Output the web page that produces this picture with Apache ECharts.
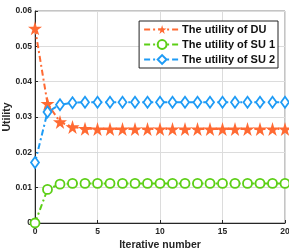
<!DOCTYPE html>
<html>
<head>
<meta charset="utf-8">
<script src="https://cdn.jsdelivr.net/npm/echarts@6/dist/echarts.min.js"></script>
<style>
  html, body { margin: 0; padding: 0; background: #fff; }
  #chart { width: 289px; height: 250px; }
</style>
</head>
<body>
<div id="chart"></div>
<script>
const iterations = Array.from({ length: 21 }, (_, i) => i);
const duUtility = [0.0551, 0.0338, 0.0286, 0.0272, 0.0267, 0.0266, 0.0266, 0.0266, 0.0266, 0.0266, 0.0266,
  0.0266, 0.0266, 0.0266, 0.0266, 0.0266, 0.0266, 0.0266, 0.0266, 0.0266, 0.0266];
const su1Utility = [0.0, 0.0095, 0.0110, 0.0112, 0.0112, 0.0112, 0.0112, 0.0112, 0.0112, 0.0112, 0.0112,
  0.0112, 0.0112, 0.0112, 0.0112, 0.0112, 0.0112, 0.0112, 0.0112, 0.0112, 0.0112];
const su2Utility = [0.0171, 0.0314, 0.0335, 0.0340, 0.0342, 0.0342, 0.0342, 0.0342, 0.0342, 0.0342, 0.0342,
  0.0342, 0.0342, 0.0342, 0.0342, 0.0342, 0.0342, 0.0342, 0.0342, 0.0342, 0.0342];
const seriesNames = ['The utility of DU', 'The utility of SU 1', 'The utility of SU 2'];

const STAR = 'path://M50,0 L61,35 L98,35 L68,57 L79,91 L50,70 L21,91 L32,57 L2,35 L39,35 Z';
const dashDot = [6, 3, 2, 3];
const textColor = '#262626';

function mkSeries(name, data, color, symbol, size, hollow) {
  return {
    name, type: 'line',
    data: iterations.map((x, i) => [x, data[i]]),
    symbol, symbolSize: size,
    showAllSymbol: true,
    lineStyle: { color, width: 2, type: dashDot },
    itemStyle: hollow
      ? { color: '#fff', borderColor: color, borderWidth: 1.8 }
      : { color, borderColor: color, borderWidth: 0 },
    emphasis: { disabled: true },
    z: 3
  };
}

const chart = echarts.init(document.getElementById('chart'));
chart.setOption({
  animation: false,
  grid: {
    left: 35, right: 4, top: 11, bottom: 27,
    outerBoundsMode: 'none',
    show: true, borderColor: '#8a8a8a', borderWidth: 1
  },
  legend: {
    right: 11, top: 21,
    orient: 'vertical',
    itemWidth: 36, itemHeight: 11, itemGap: 4,
    padding: [3, 3, 3, 4],
    backgroundColor: '#fff',
    borderColor: '#222', borderWidth: 1,
    borderRadius: 0,
    textStyle: { fontFamily: 'Liberation Sans', fontWeight: 'bold', fontSize: 11, color: '#111', padding: [0, 0, 0, -3] },
    data: seriesNames
  },
  xAxis: {
    type: 'value', min: 0, max: 20, interval: 5,
    name: 'Iterative number', nameLocation: 'middle', nameGap: 17,
    nameMoveOverlap: false,
    nameTextStyle: { fontFamily: 'Liberation Sans', fontWeight: 'bold', fontSize: 10.5, color: textColor },
    axisLine: { lineStyle: { color: textColor, width: 1 } },
    axisTick: { inside: true, length: 3, lineStyle: { color: textColor } },
    axisLabel: { fontFamily: 'Liberation Sans', fontWeight: 'bold', fontSize: 8.5, color: textColor, margin: 4 },
    splitLine: { show: true, lineStyle: { color: '#dcdcdc', width: 1 } }
  },
  yAxis: {
    type: 'value', min: 0, max: 0.06, interval: 0.01,
    name: 'Utility', nameLocation: 'middle', nameGap: 22,
    nameMoveOverlap: false,
    nameTextStyle: { fontFamily: 'Liberation Sans', fontWeight: 'bold', fontSize: 10.5, color: textColor },
    axisLine: { show: true, lineStyle: { color: textColor, width: 1 } },
    axisTick: { show: true, inside: true, length: 3, lineStyle: { color: textColor } },
    axisLabel: { fontFamily: 'Liberation Sans', fontWeight: 'bold', fontSize: 8.5, color: textColor, margin: 3,
      formatter: v => v === 0 ? '0' : v.toFixed(2) },
    splitLine: { show: true, lineStyle: { color: '#dcdcdc', width: 1 } }
  },
  series: [
    mkSeries(seriesNames[0], duUtility, '#FF6A33', STAR, 14, false),
    mkSeries(seriesNames[1], su1Utility, '#5CCF16', 'circle', 9, true),
    mkSeries(seriesNames[2], su2Utility, '#1E9BF5', 'diamond', [8, 11], true)
  ]
});
</script>
</body>
</html>
